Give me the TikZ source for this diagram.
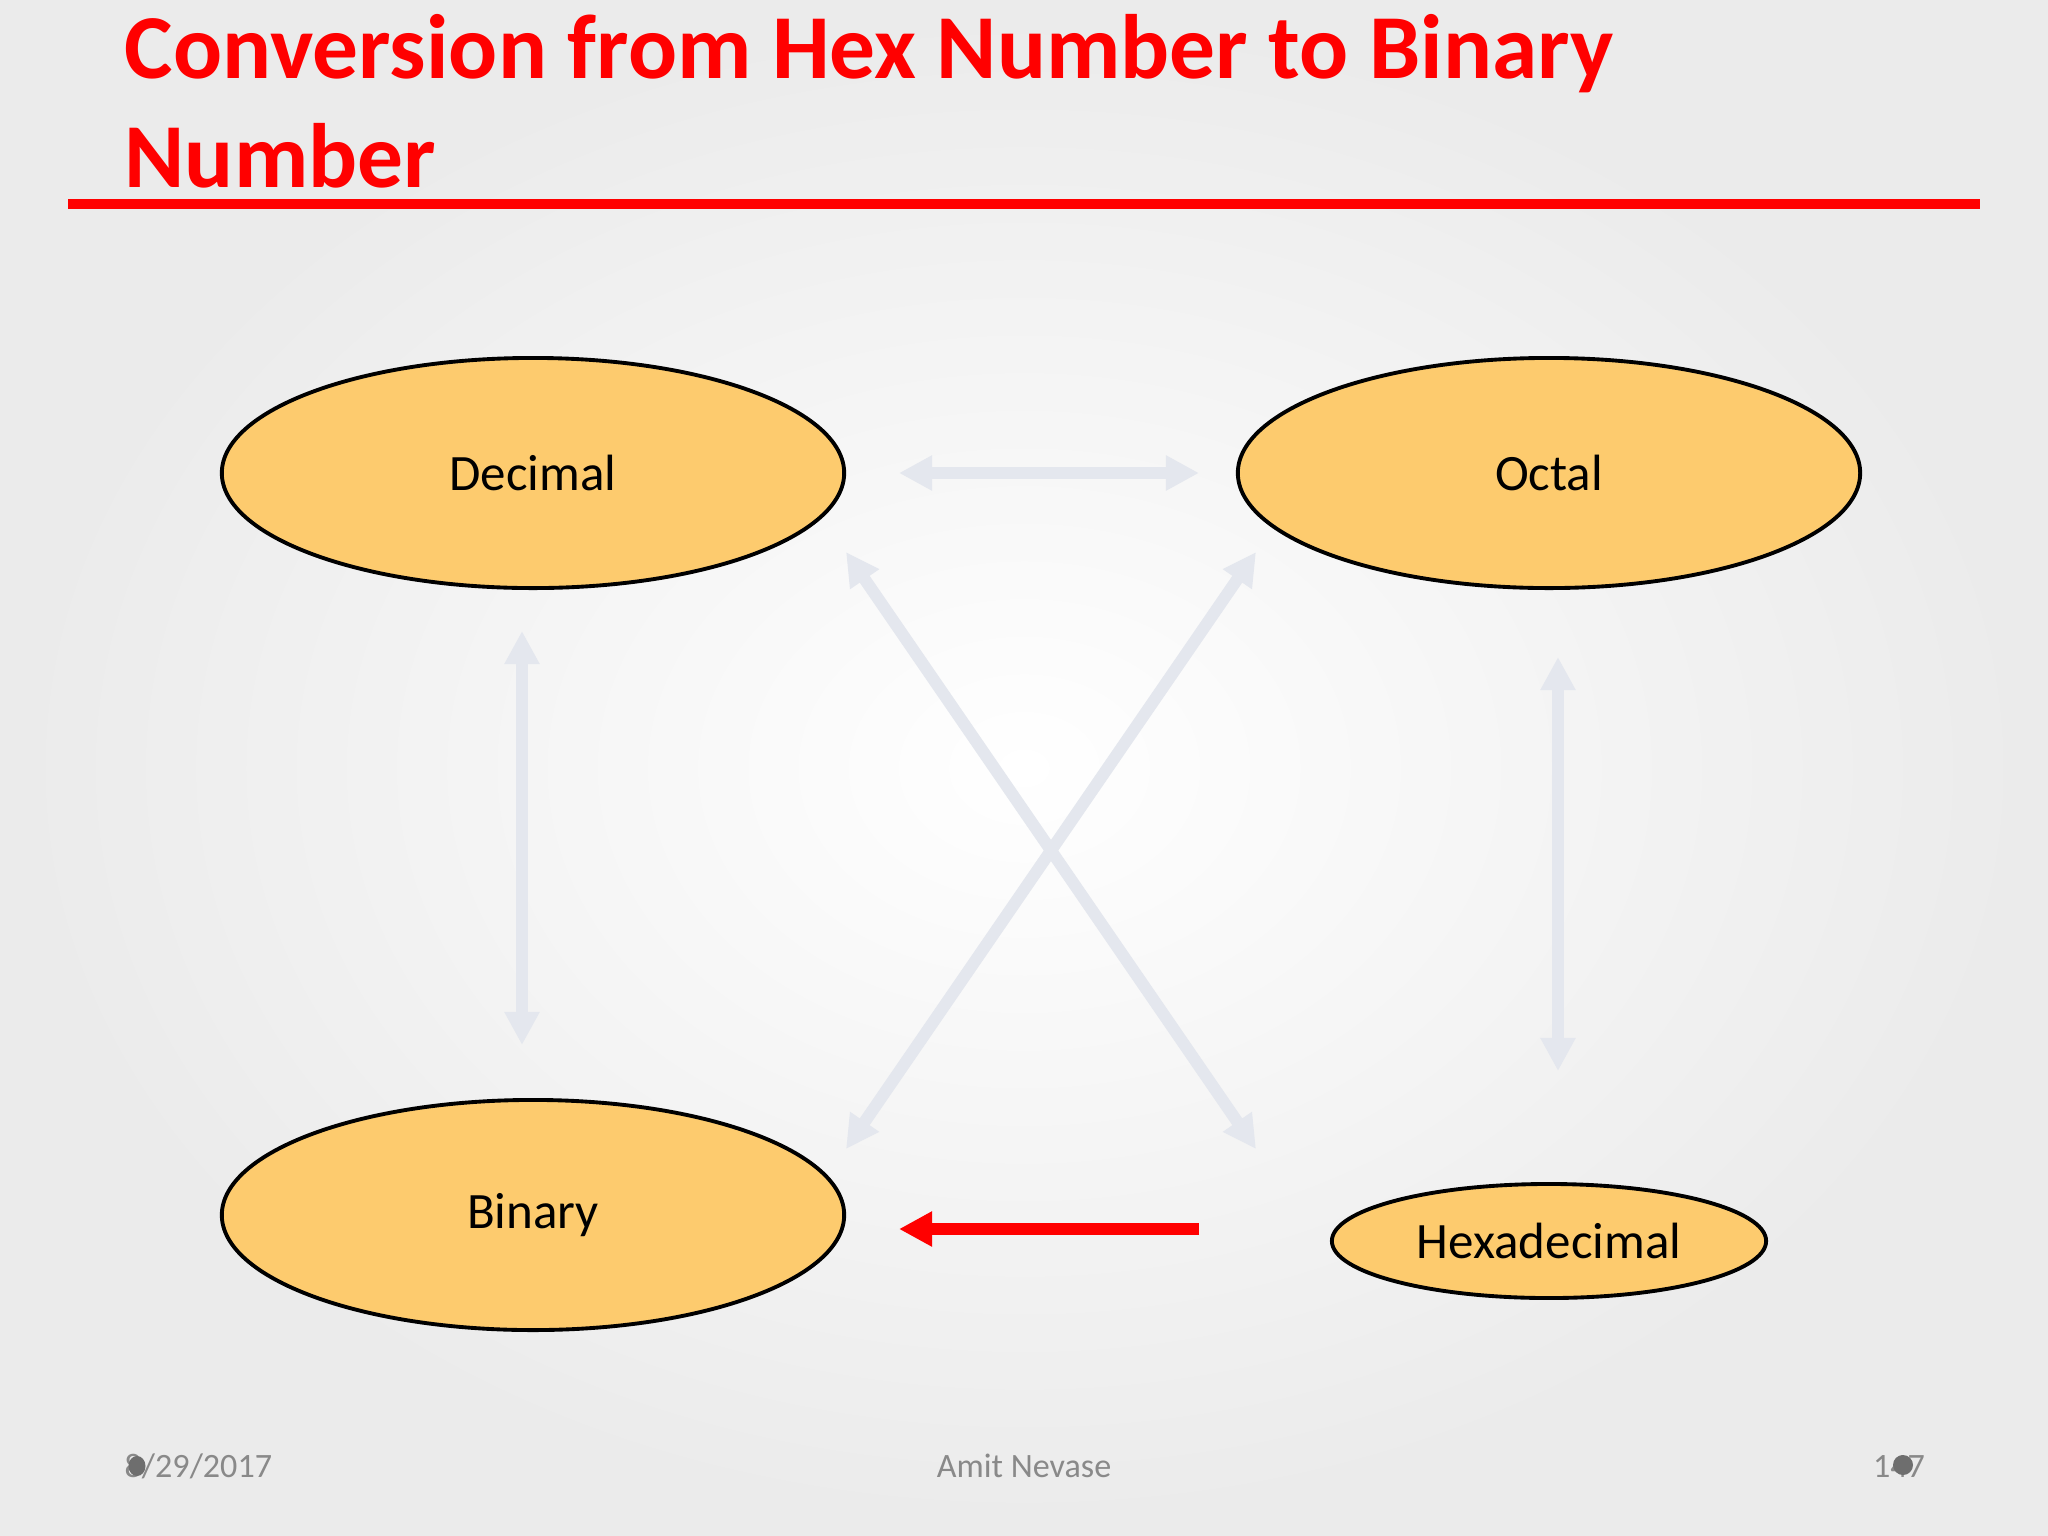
\documentclass[tikz,border=0pt]{standalone}
\usepackage{fontspec}
\setmainfont{Carlito}
\usepackage{tikz}
\usetikzlibrary{arrows.meta,shapes.geometric}
\definecolor{titlered}{RGB}{255,0,0}
\definecolor{ovalfill}{RGB}{253,203,110}
\definecolor{arrowgray}{RGB}{228,231,238}
\definecolor{footgray}{RGB}{137,137,137}
\definecolor{blobgray}{RGB}{110,110,110}

\begin{document}
\begin{tikzpicture}[x=0.01cm,y=-0.01cm,
    oval/.style={ellipse,draw=black,line width=1.1pt,fill=ovalfill,inner sep=0pt,
      font=\fontsize{14.5}{17}\selectfont},
    bigoval/.style={oval,minimum width=6.22cm,minimum height=2.3cm},
    dbl/.style={arrowgray,line width=0.12cm,{Triangle[length=0.33cm,width=0.33cm]}-{Triangle[length=0.33cm,width=0.33cm]}},
    single/.style={titlered,line width=0.12cm,-{Triangle[length=0.33cm,width=0.33cm]}},
    foot/.style={footgray,font=\fontsize{9.7}{12}\selectfont}]

          \useasboundingbox (0,0) rectangle (2048,1536);
          \fill[inner color=white,outer color=gray!16] (0,0) rectangle (2048,1536);

          % title
          \node[anchor=base west,inner sep=0pt,text=titlered,font=\fontsize{26}{31}\selectfont\bfseries]
            (title1) at (124,78) {Conversion from Hex Number to Binary};
          \node[anchor=base west,inner sep=0pt,text=titlered,font=\fontsize{26}{31}\selectfont\bfseries]
            (title2) at (124,187) {Number};
          \draw[titlered,line width=0.1cm] (68,204) -- (1980,204);

          % the four number systems
          \node[bigoval] (dec) at (533,473) {Decimal};
          \node[bigoval] (oct) at (1549,473) {Octal};
          \node[bigoval] (bin) at (533,1215) {Binary};
          \node[oval,minimum width=4.34cm,minimum height=1.14cm] (hex) at (1549,1241) {Hexadecimal};

          % arrow ends
          \coordinate (decoct-a) at (899,473);
          \coordinate (decoct-b) at (1199,473);
          \coordinate (decbin-a) at (522,631);
          \coordinate (decbin-b) at (522,1045);
          \coordinate (octhex-a) at (1558,657);
          \coordinate (octhex-b) at (1558,1071);
          \coordinate (dechex-a) at (846,552);
          \coordinate (dechex-b) at (1256,1149);
          \coordinate (octbin-a) at (1256,552);
          \coordinate (octbin-b) at (846,1149);
          \coordinate (hexbin-a) at (1199,1229);
          \coordinate (hexbin-b) at (899,1229);

          \draw[dbl] (decoct-a) -- (decoct-b);
          \draw[dbl] (decbin-a) -- (decbin-b);
          \draw[dbl] (octhex-a) -- (octhex-b);
          \draw[dbl] (dechex-a) -- (dechex-b);
          \draw[dbl] (octbin-a) -- (octbin-b);
          \draw[single] (hexbin-a) -- (hexbin-b);

          % footer
          \node[foot,anchor=base west,inner sep=0pt] (date) at (124,1477) {8/29/2017};
          \node[foot,anchor=base,inner sep=0pt] (author) at (1024,1477) {Amit Nevase};
          \node[foot,anchor=base,inner sep=0pt] (page) at (1899,1477) {147};
          \fill[blobgray] (137,1466) ellipse (0.085cm and 0.1cm);
          \fill[blobgray] (1903,1465) ellipse (0.1cm and 0.1cm);

\end{tikzpicture}
\end{document}
